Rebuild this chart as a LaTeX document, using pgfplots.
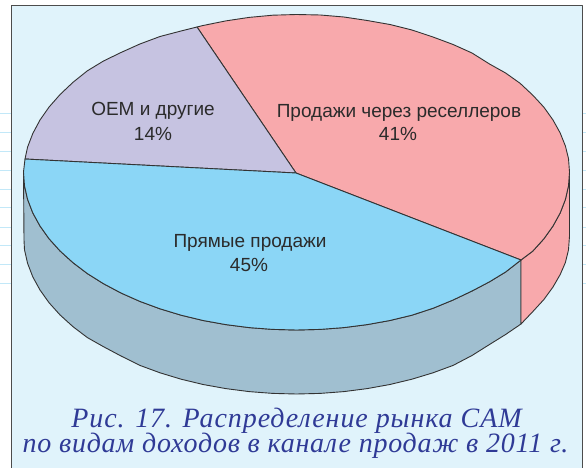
\documentclass[border=0pt]{standalone}
\usepackage{fontspec}
\setmainfont{Liberation Sans}
\newfontfamily\capfonta[LetterSpace=3.3]{Liberation Serif}
\newfontfamily\capfontb[LetterSpace=2.7]{Liberation Serif}
\usepackage{pgfplots}
\pgfplotsset{compat=1.18}
\definecolor{panel}{HTML}{E0F3FB}
\definecolor{tick}{HTML}{C2E8F8}
\definecolor{pinkc}{HTML}{F8A9AC}
\definecolor{lilac}{HTML}{C6C3E1}
\definecolor{bluec}{HTML}{8BD6F6}
\definecolor{sidec}{HTML}{A0BFD0}
\definecolor{capc}{HTML}{2F3A96}
\definecolor{txt}{HTML}{2B2B2B}
\definecolor{edge}{HTML}{333333}
\begin{document}
\begin{tikzpicture}
\begin{axis}[
  scale only axis, width=586pt, height=468pt,
  xmin=0, xmax=586, ymin=0, ymax=468, y dir=reverse,
  axis lines=none, clip=true, unbounded coords=jump,
  every axis plot/.append style={mark=none, line join=round}]
% page
\addplot[draw=none, fill=white] coordinates {(0,0)(586,0)(586,468)(0,468)} --cycle;
% ruled lines beyond the panel
\addplot[draw=tick, line width=0.9pt] coordinates {
 (0,113)(11,113)(nan,nan)(0,132)(11,132)(nan,nan)(0,151)(11,151)(nan,nan)(0,170)(11,170)(nan,nan)
 (0,189)(11,189)(nan,nan)(0,207)(11,207)(nan,nan)(0,227)(11,227)(nan,nan)(0,245)(11,245)(nan,nan)
 (0,264)(11,264)(nan,nan)(0,283)(11,283)(nan,nan)
 (582,113)(586,113)(nan,nan)(582,132)(586,132)(nan,nan)(582,151)(586,151)(nan,nan)(582,170)(586,170)(nan,nan)
 (582,189)(586,189)(nan,nan)(582,207)(586,207)(nan,nan)(582,227)(586,227)(nan,nan)(582,245)(586,245)(nan,nan)
 (582,264)(586,264)(nan,nan)(582,283)(586,283)};
% panel
\addplot[draw=none, fill=panel] coordinates {(11,6)(582,6)(582,468)(11,468)} --cycle;
\addplot[draw=black!70, line width=1pt] coordinates {(11,468)(11,6)(582,6)(582,468)};
% side, grey part
\addplot[draw=edge, fill=sidec, line width=0.9pt] coordinates {
(23.5,172)(24.5,185.8)(27.6,199.4)(32.8,212.9)(40,226)(49.1,238.8)(60.1,251)(72.9,262.6)(87.4,273.6)(103.5,283.7)(121,293)(139.9,301.4)(160,308.8)(181.1,315.2)(203.1,320.5)(225.8,324.6)(249.1,327.6)(272.7,329.4)(296.5,330)(320.3,329.4)(343.9,327.6)(367.2,324.6)(389.9,320.5)(411.9,315.2)(433,308.3)(453.1,300)(472,291)(489.5,281.8)(505.6,272)
(521,260)(521,324)
(505.6,334.5)(489.5,344.5)(472,355.5)(453.1,365.4)(433,372.8)(411.9,379.2)(389.9,384.5)(367.2,388.6)(343.9,391.6)(320.3,393.4)(296.5,394)(272.7,393.4)(249.1,391.6)(225.8,388.6)(203.1,384.5)(181.1,379.2)(160,372.8)(139.9,365.4)(121,356)(103.5,346.7)(87.4,337.6)(72.9,326.6)(60.1,315)(49.1,302.8)(40,290)(32.8,276.9)(27.6,263.4)(24.5,249.8)(24,240)} --cycle;
% side, pink part
\addplot[draw=edge, fill=pinkc, line width=0.9pt] coordinates {
(521,260)(532.9,251)(543.9,238.8)(553,226)(560.2,212.9)(565.4,199.4)(568.5,185.8)(569.5,172)
(569.5,236)(568.5,249.8)(565.4,262.5)(560.2,274.5)(553,287)(543.9,299.5)(532.9,311.5)(521,324)} --cycle;
% top: pink 41
\addplot[draw=edge, fill=pinkc, line width=0.9pt] coordinates {
(296,173)(197,27)(203.1,25.5)(225.8,20.9)(249.1,17.4)(272.7,15.2)(296.5,14.5)(320.3,15)(343.9,17)(367.2,20.5)(389.9,24.5)(411.9,30)(433,37)(453.1,44.5)(472,53)(489.5,64)(505.6,73)(520.1,83.3)(532.9,95.3)(543.9,107.2)(553,120)(560.2,133)(565.4,146)(568.5,158.5)(569.5,172)(568.5,185.8)(565.4,199.4)(560.2,212.9)(553,226)(543.9,238.8)(532.9,251)(521,260)} --cycle;
% top: lilac 14
\addplot[draw=edge, fill=lilac, line width=0.9pt] coordinates {
(296,173)(25,159)(27.6,147)(32.8,133.5)(40,120)(49.1,107)(60.1,94.5)(72.9,82.4)(87.4,70.8)(103.5,61)(121,52.5)(139.9,44)(160,36.5)(181,31)(197,27)} --cycle;
% top: blue 45
\addplot[draw=edge, fill=bluec, line width=0.9pt] coordinates {
(296,173)(521,260)(505.6,272)(489.5,281.8)(472,291)(453.1,300)(433,308.3)(411.9,315.2)(389.9,320.5)(367.2,324.6)(343.9,327.6)(320.3,329.4)(296.5,330)(272.7,329.4)(249.1,327.6)(225.8,324.6)(203.1,320.5)(181.1,315.2)(160,308.8)(139.9,301.4)(121,293)(103.5,283.7)(87.4,273.6)(72.9,262.6)(60.1,251)(49.1,238.8)(40,226)(32.8,212.9)(27.6,199.4)(24.5,185.8)(23.5,172)(25,159)} --cycle;
% labels
\begin{scope}[every node/.style={text=txt, font=\fontsize{19}{22}\selectfont, inner sep=0pt, anchor=base}]
\node at (axis cs:399,118) {Продажи через реселлеров};
\node at (axis cs:398,141) {41\%};
\node at (axis cs:153,116) {OEM и другие};
\node at (axis cs:153,141) {14\%};
\node at (axis cs:250,247) {Прямые продажи};
\node at (axis cs:249,271) {45\%};
\end{scope}
\begin{scope}[every node/.style={text=capc, inner sep=0pt, anchor=base}]
\node[font=\fontsize{28}{30}\capfonta\itshape] at (axis cs:296.5,427) {Рис. 17. Распределение рынка CAM};
\node[font=\fontsize{28}{30}\capfontb\itshape] at (axis cs:295.5,452.5) {по видам доходов в канале продаж в 2011 г.};
\end{scope}
\end{axis}
\end{tikzpicture}
\end{document}
